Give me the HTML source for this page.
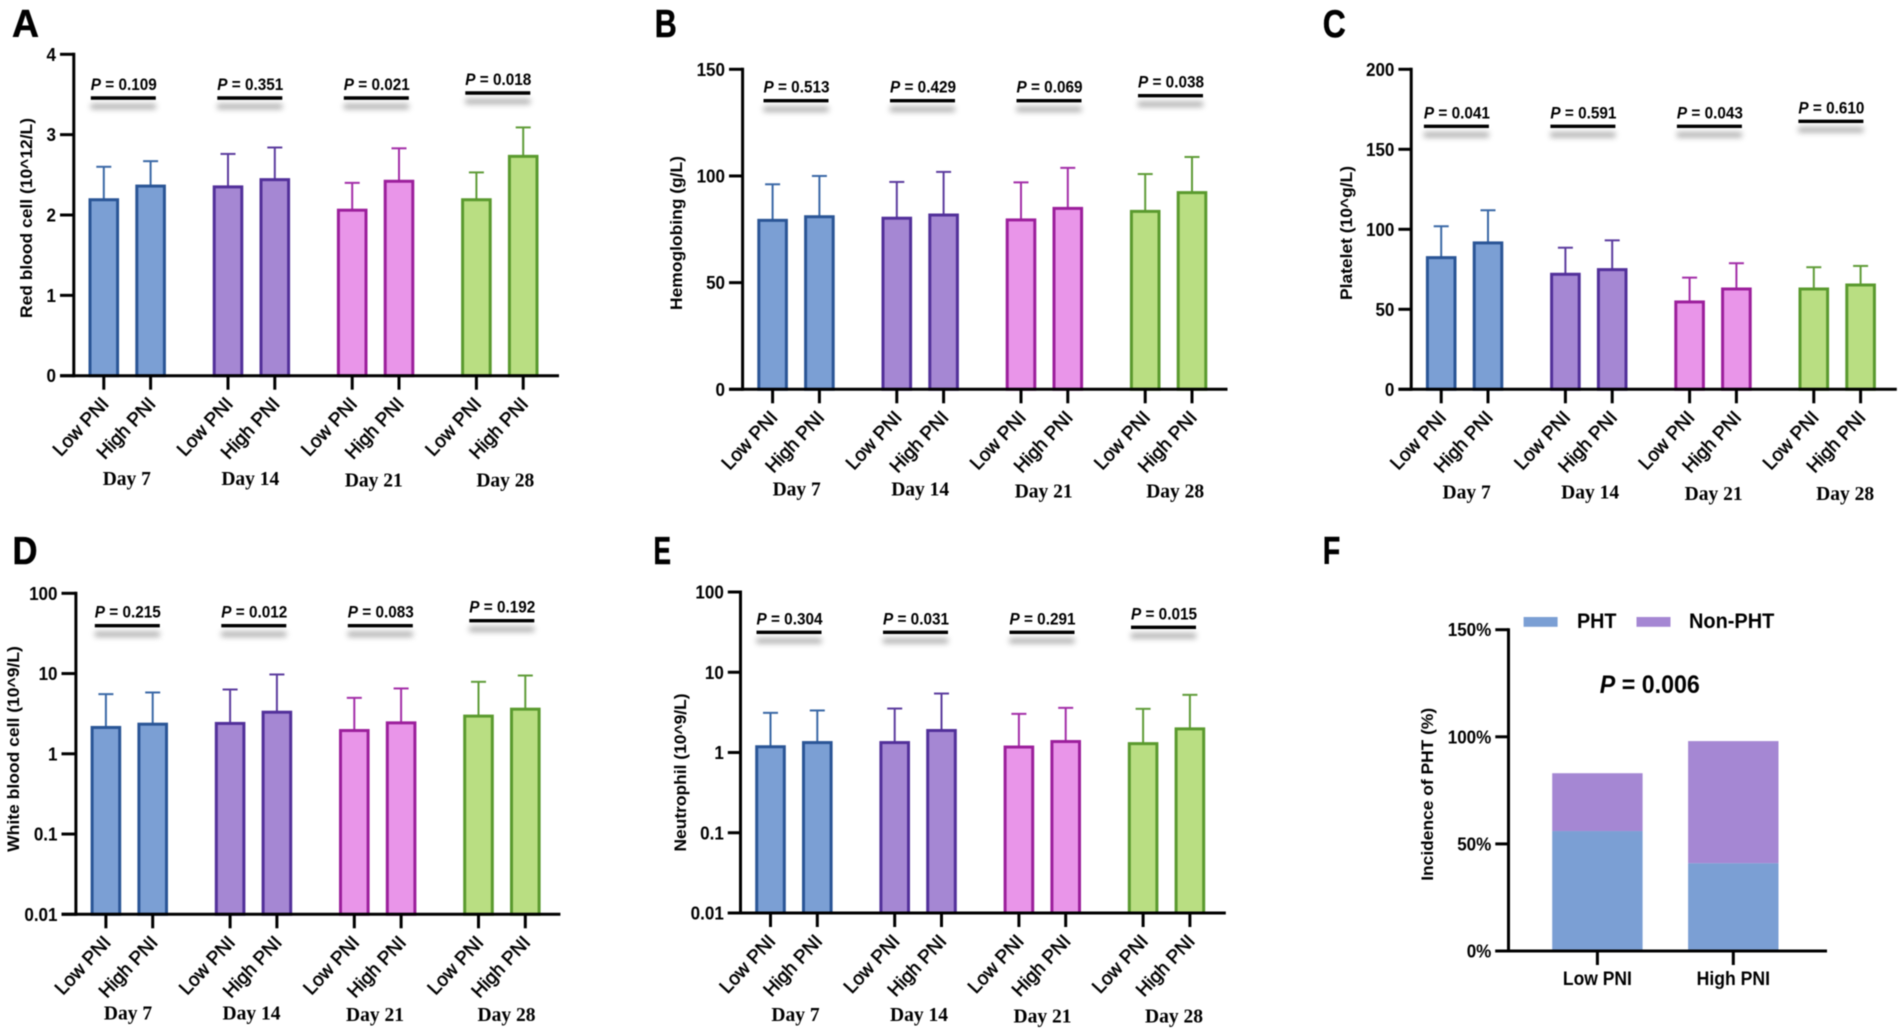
<!DOCTYPE html>
<html lang="en">
<head>
<meta charset="utf-8">
<title>Blood parameters by PNI group</title>
<style>
  html, body { margin: 0; padding: 0; background: #fff; }
  svg { display: block; filter: blur(0.4px); }
  text { font-family: "Liberation Sans", Arial, sans-serif; fill: #000; }
</style>
</head>
<body>
<svg id="chart" xmlns="http://www.w3.org/2000/svg" width="1902" height="1035" viewBox="0 0 1902 1035">
  <defs>
    <filter id="soft" x="-20%" y="-400%" width="140%" height="900%"><feGaussianBlur stdDeviation="2.8"/></filter>
  </defs>
</svg>
<script>
// ---- shared categories ----
const categories = ['Low PNI', 'High PNI'];
const days = ['Day 7', 'Day 14', 'Day 21', 'Day 28'];

// ---- Panel A: red blood cell ----
const rbcTicks = [0, 1, 2, 3, 4];
const rbcTickLabels = ['0', '1', '2', '3', '4'];
const rbcMeans = [2.19, 2.36, 2.35, 2.44, 2.06, 2.42, 2.19, 2.73];
const rbcUpper = [2.60, 2.67, 2.76, 2.84, 2.40, 2.83, 2.53, 3.09];
const rbcP = ['0.109', '0.351', '0.021', '0.018'];

// ---- Panel B: hemoglobin ----
const hgbTicks = [0, 50, 100, 150];
const hgbTickLabels = ['0', '50', '100', '150'];
const hgbMeans = [79.2, 80.9, 80.2, 81.7, 79.4, 84.8, 83.4, 92.2];
const hgbUpper = [96.1, 100, 97.2, 101.9, 97, 103.8, 100.9, 108.9];
const hgbP = ['0.513', '0.429', '0.069', '0.038'];

// ---- Panel C: platelet ----
const pltTicks = [0, 50, 100, 150, 200];
const pltTickLabels = ['0', '50', '100', '150', '200'];
const pltMeans = [82.3, 91.5, 71.9, 74.8, 54.6, 62.7, 62.7, 65.2];
const pltUpper = [101.9, 111.9, 88.5, 93.1, 69.8, 78.8, 76.3, 77.1];
const pltP = ['0.041', '0.591', '0.043', '0.610'];

// ---- Panel D: white blood cell (log) ----
const wbcTicks = [0.01, 0.1, 1, 10, 100];
const wbcTickLabels = ['0.01', '0.1', '1', '10', '100'];
const wbcMeans = [2.13, 2.34, 2.39, 3.30, 1.95, 2.43, 2.95, 3.60];
const wbcUpper = [5.54, 5.81, 6.33, 9.74, 4.98, 6.52, 7.89, 9.45];
const wbcP = ['0.215', '0.012', '0.083', '0.192'];

// ---- Panel E: neutrophil (log) ----
const neuTicks = [0.01, 0.1, 1, 10, 100];
const neuTickLabels = ['0.01', '0.1', '1', '10', '100'];
const neuMeans = [1.18, 1.33, 1.33, 1.88, 1.17, 1.37, 1.29, 1.97];
const neuUpper = [3.12, 3.34, 3.53, 5.43, 3.03, 3.60, 3.50, 5.23];
const neuP = ['0.304', '0.031', '0.291', '0.015'];

// ---- Panel F: stacked incidence ----
const phtTicks = [0, 50, 100, 150];
const phtTickLabels = ['0%', '50%', '100%', '150%'];
const phtSeries = ['PHT', 'Non-PHT'];
const phtValues = [56, 41];
const nonPhtValues = [27, 57];
const phtOverallP = '0.006';

const palette = [
  { fill: '#7b9fd4', stroke: '#2a5596', err: '#3a68a6' },
  { fill: '#a587d3', stroke: '#52309a', err: '#5c3c9e' },
  { fill: '#e995e9', stroke: '#9c1f9c', err: '#a32ea8' },
  { fill: '#b9de82', stroke: '#5a9a2e', err: '#5f9c38' }
];

const svg = document.getElementById('chart');
const NS = 'http://www.w3.org/2000/svg';

function make(tag, attrs, parent) {
  const el = document.createElementNS(NS, tag);
  for (const k in attrs) el.setAttribute(k, attrs[k]);
  (parent || svg).appendChild(el);
  return el;
}

function line(parent, x1, y1, x2, y2, color, width) {
  return make('line', { x1: x1, y1: y1, x2: x2, y2: y2, stroke: color, 'stroke-width': width }, parent);
}

function label(parent, x, y, str, o) {
  o = o || {};
  const attrs = {
    x: x, y: y,
    'font-size': o.size || 17,
    'font-weight': o.weight || 'bold',
    'text-anchor': o.anchor || 'start'
  };
  if (o.family) attrs.style = 'font-family:' + o.family;
  if (o.length) { attrs.textLength = o.length; attrs.lengthAdjust = 'spacingAndGlyphs'; }
  if (o.rotate !== undefined) attrs.transform = 'rotate(' + o.rotate + ' ' + x + ' ' + y + ')';
  if (o.stroke) { attrs.stroke = '#000'; attrs['stroke-width'] = o.stroke; }
  const el = make('text', attrs, parent);
  el.textContent = str;
  if (o.squeeze) {
    el.setAttribute('textLength', el.getComputedTextLength() * o.squeeze);
    el.setAttribute('lengthAdjust', 'spacingAndGlyphs');
  }
  return el;
}

function panelLetter(str, x, y, width) {
  const el = label(svg, x, y, str, { size: 39, length: width, stroke: 0.5 });
  
  
}

function pLabel(parent, x, y, value, size, width) {
  const t = make('text', { x: x, y: y, 'font-size': size, 'font-weight': 'bold', textLength: width, lengthAdjust: 'spacingAndGlyphs' }, parent);
  const ital = make('tspan', { 'font-style': 'italic' }, t);
  ital.textContent = 'P';
  const rest = make('tspan', {}, t);
  rest.textContent = ' = ' + value;
  return t;
}

function drawAxes(g, c, ticks, tickLabels, yOf) {
  const yAxis = line(g, c.axisX, c.top - 1.5, c.axisX, c.base + 1.5, '#000', 3);
  
  
  const xAxis = line(g, c.tickLeft, c.base, c.right, c.base, '#000', 3);
  
  
  ticks.forEach(function (t, i) {
    const y = yOf(t);
    const mark = line(g, c.tickLeft, y, c.axisX, y, '#000', 3);
    
    
    const lab = label(g, c.tickLeft - 4, y + 6.5, tickLabels[i], { anchor: 'end', size: 18.5, squeeze: 0.92 });
    
    
  });
  const title = label(g, c.titleX, c.titleY, c.title, { size: 16.5, anchor: 'middle', length: c.titleLen, rotate: -90 });
  
  
}

function drawBarPanel(c, means, upper, pValues, ticks, tickLabels) {
  const g = make('g', {});
  
  

  const lo = ticks[0], hi = ticks[ticks.length - 1];
  const yOf = c.log
    ? function (v) { return c.base - (Math.log10(v) - Math.log10(lo)) / (Math.log10(hi) - Math.log10(lo)) * (c.base - c.top); }
    : function (v) { return c.base - (v - lo) / (hi - lo) * (c.base - c.top); };
  const xOf = function (i) {
    const group = Math.floor(i / 2), member = i % 2;
    return c.axisX + 30 + group * 124.2 + member * 46.8;
  };

  const barW = 30.6, sw = 3;
  means.forEach(function (v, i) {
    const group = Math.floor(i / 2);
    const col = palette[group];
    const x = xOf(i), top = yOf(v), up = yOf(upper[i]);

    const stem = line(g, x, top, x, up, col.err, 2);
    
    
    const cap = line(g, x - 7.5, up, x + 7.5, up, col.err, 2);
    
    

    const bar = make('rect', {
      x: x - barW / 2 + sw / 2, y: top,
      width: barW - sw, height: Math.max(0, c.base - top),
      fill: col.fill, stroke: col.stroke, 'stroke-width': sw
    }, g);
    
    

    const tick = line(g, x, c.base, x, c.base + 14, '#000', 3);
    
    

    const cat = label(g, x + 6, c.base + 29, categories[i % 2], { size: 19, weight: 'normal', anchor: 'end', rotate: -47, stroke: 0.55 });
    
    
  });

  days.forEach(function (d, i) {
    const dx = c.dayX + i * 123.5 + (i === 3 ? 8 : 0);
    const dy = c.base + c.dayDy + (i >= 2 ? 1.7 : 0);
    const lab = label(g, dx, dy, d, { size: 19.5, anchor: 'middle', family: '"Liberation Serif", serif' });
    
    
  });

  pValues.forEach(function (p, i) {
    const px = c.pX - 1.2 + i * 126.5 - (i === 3 ? 5 : 0);
    const py = c.pY - (i === 3 ? 5 : 0);
    const shadow = make('rect', { x: px, y: py + 6, width: 65, height: 5, fill: '#8c8c8c', opacity: 0.75, filter: 'url(#soft)' }, g);
    
    
    const rule = line(g, px, py, px + 65, py, '#000', 3.4);
    
    
    const txt = pLabel(g, px, py - 8, p, 17, 66);
    
    
  });

  drawAxes(g, c, ticks, tickLabels, yOf);
}

function drawStackPanel() {
  const c = { axisX: 1508.5, top: 629.7, base: 951, tickLeft: 1495.3, right: 1827,
              title: 'Incidence of PHT (%)', titleX: 1433, titleY: 794.3, titleLen: 173 };
  const g = make('g', {});
  
  
  const lo = phtTicks[0], hi = phtTicks[phtTicks.length - 1];
  const yOf = function (v) { return c.base - (v - lo) / (hi - lo) * (c.base - c.top); };
  const xOf = function (i) { return 1597.4 + i * 135.9; };
  const barW = 90.4;

  categories.forEach(function (cat, i) {
    const x = xOf(i) - barW / 2;
    const yP = yOf(phtValues[i]);
    const yN = yOf(phtValues[i] + nonPhtValues[i]);
    const lower = make('rect', { x: x, y: yP, width: barW, height: c.base - yP, fill: palette[0].fill }, g);
    
    
    const upperBar = make('rect', { x: x, y: yN, width: barW, height: yP - yN, fill: palette[1].fill }, g);
    
    
    const tick = line(g, xOf(i), c.base, xOf(i), c.base + 14, '#000', 3);
    
    
    const lab = label(g, xOf(i), 985, cat, { size: 19, anchor: 'middle', length: i ? 73.4 : 69 });
    
    
  });

  drawAxes(g, c, phtTicks, phtTickLabels, yOf);

  phtSeries.forEach(function (s, i) {
    const swatch = make('rect', { x: 1523.6 + i * 112.9, y: 617, width: 34, height: 9.8, fill: palette[i].fill }, g);
    
    
    const t = label(g, i ? 1689 : 1577, 628, s, { size: 21, length: i ? 85.3 : 39.5 });
    
    
  });

  const p = pLabel(g, 1599.8, 693, phtOverallP, 25, 100);
  
  
}

panelLetter('A', 12, 37, 27);
panelLetter('B', 654.8, 37, 22);
panelLetter('C', 1322.7, 37, 23);
panelLetter('D', 12.5, 564, 25);
panelLetter('E', 653.5, 564, 17.5);
panelLetter('F', 1322.7, 564, 17.5);

drawBarPanel({ name: 'panel-a-red-blood-cell', axisX: 73.8, top: 54.3, base: 375.7, tickLeft: 60, right: 559,
  title: 'Red blood cell (10^12/L)', titleX: 32, titleY: 218, titleLen: 200,
  dayX: 126.8, dayDy: 109.3, pX: 92, pY: 98 }, rbcMeans, rbcUpper, rbcP, rbcTicks, rbcTickLabels);

drawBarPanel({ name: 'panel-b-hemoglobin', axisX: 742.6, top: 69.3, base: 389.3, tickLeft: 729, right: 1227.5,
  title: 'Hemoglobing (g/L)', titleX: 682, titleY: 233, titleLen: 154,
  dayX: 796.7, dayDy: 106.4, pX: 764.7, pY: 100.7 }, hgbMeans, hgbUpper, hgbP, hgbTicks, hgbTickLabels);

drawBarPanel({ name: 'panel-c-platelet', axisX: 1411.2, top: 69.3, base: 389.3, tickLeft: 1398.4, right: 1896.8,
  title: 'Platelet (10^g/L)', titleX: 1352, titleY: 233, titleLen: 134,
  dayX: 1466.6, dayDy: 109, pX: 1425.1, pY: 126.3 }, pltMeans, pltUpper, pltP, pltTicks, pltTickLabels);

drawBarPanel({ name: 'panel-d-white-blood-cell', log: true, axisX: 75.9, top: 593.3, base: 914.3, tickLeft: 61.5, right: 560.4,
  title: 'White blood cell (10^9/L)', titleX: 19, titleY: 749, titleLen: 205.7,
  dayX: 128, dayDy: 105, pX: 96, pY: 625.7 }, wbcMeans, wbcUpper, wbcP, wbcTicks, wbcTickLabels);

drawBarPanel({ name: 'panel-e-neutrophil', log: true, axisX: 740.5, top: 592, base: 913, tickLeft: 727.8, right: 1225.8,
  title: 'Neutrophil (10^9/L)', titleX: 686, titleY: 772.5, titleLen: 158,
  dayX: 795.5, dayDy: 108, pX: 757.7, pY: 632.3 }, neuMeans, neuUpper, neuP, neuTicks, neuTickLabels);

drawStackPanel();
</script>
</body>
</html>
